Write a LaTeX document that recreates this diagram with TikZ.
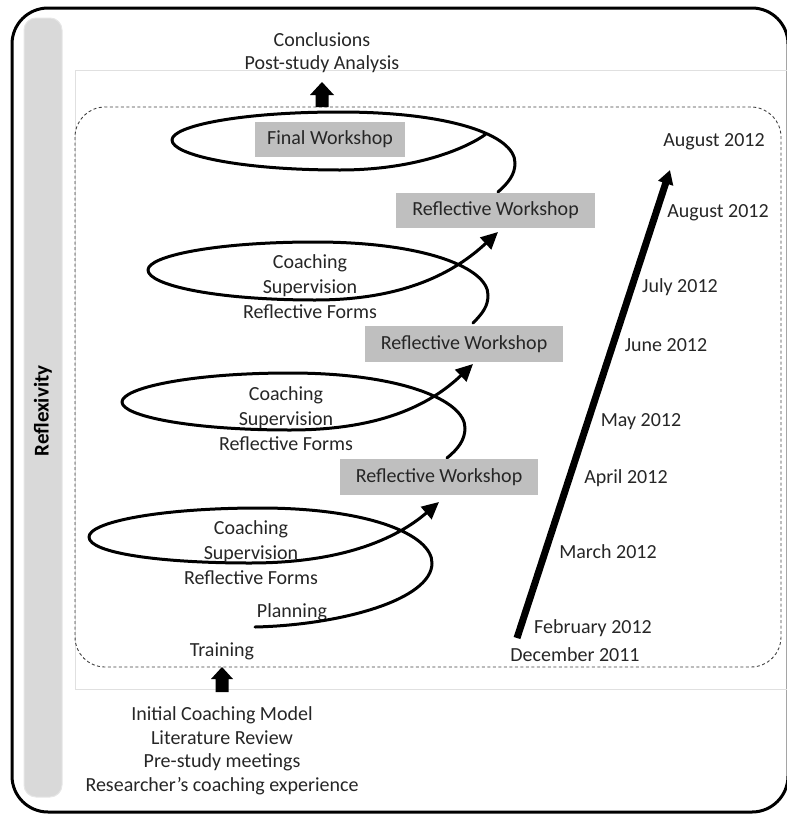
\documentclass[tikz,border=0pt]{standalone}
\usepackage{fontspec}
\setmainfont{Carlito}
\usetikzlibrary{arrows.meta}
\definecolor{txt}{HTML}{262626}
\definecolor{boxfill}{HTML}{BFBFBF}
\definecolor{barfill}{HTML}{D9D9D9}
\definecolor{barline}{HTML}{E6E6E6}
\begin{document}
\begin{tikzpicture}[x=1pt,y=-1pt,
  lbl/.style={text=txt,font=\fontsize{20}{25}\selectfont,inner sep=0pt,align=center},
  one/.style={lbl,text height=14pt,text depth=4pt},
  stack/.style={lbl,font=\fontsize{20}{23.5}\selectfont},
  wsbox/.style={one,fill=boxfill,minimum height=35pt},
  spiral/.style={line width=3pt,line cap=round,line join=round},
  sphead/.style={-{Triangle[length=17pt,width=16pt]}},
  blockarrow/.style={fill=black},
  datelbl/.style={one}]
\useasboundingbox (0,0) rectangle (787,814);

% outer frame and the reflexivity bar
\draw[line width=3pt,rounded corners=36pt] (12,8) rectangle (788,812);
\draw[barline,fill=barfill,line width=1pt,rounded corners=12pt] (24,18) rectangle (62,797);
\node[rotate=90,text=black,font=\bfseries\fontsize{21}{25}\selectfont,inner sep=0pt] (refl) at (43,411) {Reflexivity};

% faint study frame and the dashed study period
\draw[black!12,line width=0.8pt] (787,70) -- (75,70) -- (75,689) -- (787,689);
\draw[black!75,line width=0.9pt,dash pattern=on 3pt off 2.5pt,rounded corners=30pt] (75,107) rectangle (781,667);

% inputs and outputs
\node[stack] (concl) at (322,52.5) {Conclusions\\Post-study Analysis};
\node[stack] (inputs) at (222,751) {Initial Coaching Model\\Literature Review\\Pre-study meetings\\Researcher’s coaching experience};
\fill[blockarrow] (322,82) -- (334,95) -- (328.5,95) -- (328.5,107) -- (315.5,107) -- (315.5,95) -- (310,95) -- cycle;
\fill[blockarrow] (222,667) -- (233,679) -- (228.5,679) -- (228.5,692) -- (215.5,692) -- (215.5,679) -- (211,679) -- cycle;

\node[one] (training) at (222,651) {Training};
\node[one] (planning) at (292,612) {Planning};

% spiral coordinates
\coordinate (p1s) at (255,627);
\coordinate (p1r) at (432,563);
\coordinate (p1t) at (260,508);
\coordinate (p1l) at (89,537);
\coordinate (p1b) at (250,563);
\coordinate (p1e) at (439,502);

\coordinate (p2s) at (447,458);
\coordinate (p2r) at (465,428);
\coordinate (p2t) at (290,373);
\coordinate (p2l) at (122,402);
\coordinate (p2b) at (290,430);
\coordinate (p2e) at (473,364);

\coordinate (p3s) at (473,323);
\coordinate (p3r) at (488,295);
\coordinate (p3t) at (315,242);
\coordinate (p3l) at (148,270);
\coordinate (p3b) at (315,300);
\coordinate (p3e) at (498,232);

\coordinate (p4s) at (498,192);
\coordinate (p4r) at (515,163);
\coordinate (p4t) at (340,112);
\coordinate (p4l) at (172,140);
\coordinate (p4b) at (340,170);
\coordinate (p4e) at (486,134);

% the four turns of the spiral
\draw[spiral,sphead] (p1s) .. controls (340,625) and (432,600) .. (p1r)
  .. controls (432,535) and (370,508) .. (p1t)
  .. controls (160,508) and (89,522) .. (p1l)
  .. controls (89,553) and (160,563) .. (p1b)
  .. controls (340,563) and (395,540) .. (p1e);
\draw[spiral,sphead] (p2s) .. controls (458,449) and (465,440) .. (p2r)
  .. controls (465,400) and (400,373) .. (p2t)
  .. controls (190,373) and (122,388) .. (p2l)
  .. controls (122,416) and (190,430) .. (p2b)
  .. controls (380,430) and (430,405) .. (p2e);
\draw[spiral,sphead] (p3s) .. controls (483,313) and (488,306) .. (p3r)
  .. controls (488,268) and (425,242) .. (p3t)
  .. controls (215,242) and (148,256) .. (p3l)
  .. controls (148,285) and (215,300) .. (p3b)
  .. controls (405,300) and (455,272) .. (p3e);
\draw[spiral] (p4s) .. controls (508,183) and (515,175) .. (p4r)
  .. controls (515,135) and (450,112) .. (p4t)
  .. controls (240,112) and (172,126) .. (p4l)
  .. controls (172,155) and (240,170) .. (p4b)
  .. controls (420,170) and (470,146) .. (p4e);

% activities inside each turn
\node[lbl] (act1) at (251,553) {Coaching\\Supervision\\Reflective Forms};
\node[lbl] (act2) at (286,419) {Coaching\\Supervision\\Reflective Forms};
\node[lbl] (act3) at (310,287) {Coaching\\Supervision\\Reflective Forms};

% workshops
\node[wsbox,minimum width=198pt,minimum height=36pt] (ws1) at (439,477) {Reflective Workshop};
\node[wsbox,minimum width=198pt,minimum height=36pt] (ws2) at (464,344) {Reflective Workshop};
\node[wsbox,minimum width=199pt] (ws3) at (495.5,210.5) {Reflective Workshop};
\node[wsbox,minimum width=150pt] (final) at (330,139.5) {Final Workshop};

% timeline
\coordinate (tl0) at (517,638);
\coordinate (tl1) at (670,170);
\draw[line width=7pt,-{Triangle[length=14pt,width=15pt]}] (tl0) -- (tl1);

\node[datelbl] (d0) at (575,656) {December 2011};
\node[datelbl] (d1) at (593,628) {February 2012};
\node[datelbl] (d2) at (608,553) {March 2012};
\node[datelbl] (d3) at (626,478) {April 2012};
\node[datelbl] (d4) at (641,421) {May 2012};
\node[datelbl] (d5) at (666,346) {June 2012};
\node[datelbl] (d6) at (680,287) {July 2012};
\node[datelbl] (d7) at (718,212) {August 2012};
\node[datelbl] (d8) at (714,141) {August 2012};
\end{tikzpicture}
\end{document}
